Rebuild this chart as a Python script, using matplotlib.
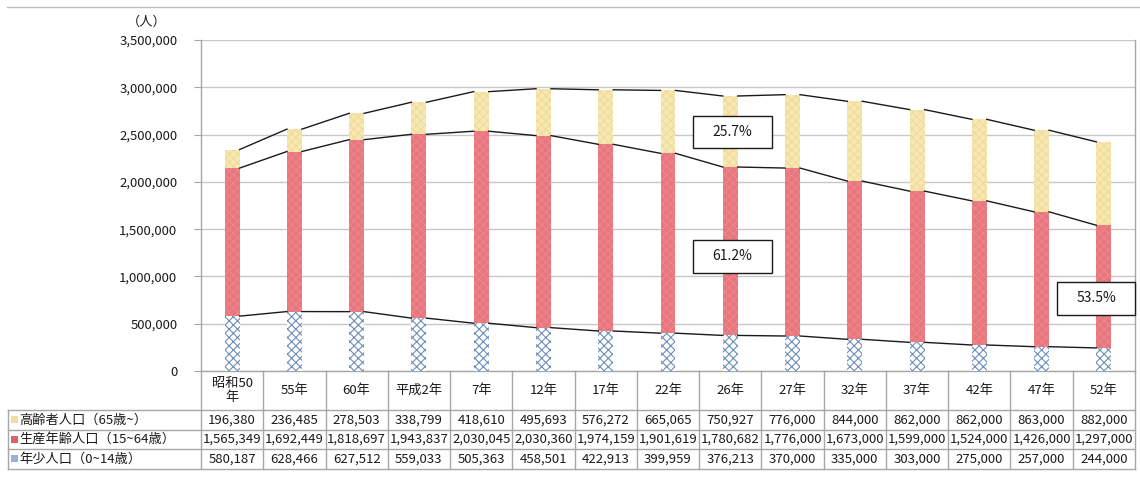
import matplotlib
matplotlib.use('Agg')
import matplotlib.pyplot as plt
from matplotlib.patches import Rectangle
from matplotlib.lines import Line2D
from matplotlib import transforms
from matplotlib.ticker import FuncFormatter
import numpy as np

plt.rcParams['font.family'] = ['Noto Sans CJK JP', 'DejaVu Sans']
plt.rcParams['hatch.linewidth'] = 0.8

categories = ['昭和50\n年', '55年', '60年', '平成2年', '7年', '12年', '17年', '22年',
              '26年', '27年', '32年', '37年', '42年', '47年', '52年']
elderly = [196380, 236485, 278503, 338799, 418610, 495693, 576272, 665065,
           750927, 776000, 844000, 862000, 862000, 863000, 882000]
working = [1565349, 1692449, 1818697, 1943837, 2030045, 2030360, 1974159, 1901619,
           1780682, 1776000, 1673000, 1599000, 1524000, 1426000, 1297000]
children = [580187, 628466, 627512, 559033, 505363, 458501, 422913, 399959,
            376213, 370000, 335000, 303000, 275000, 257000, 244000]
row_labels = ['高齢者人口（65歳~）', '生産年齢人口（15~64歳）', '年少人口（0~14歳）']
ratio_labels = ['25.7%', '61.2%', '53.5%']
y_unit = '（人）'

W, H = 1140, 488
fig = plt.figure(figsize=(W / 100, H / 100), dpi=100)


def fx(px):
    return px / W


def fy(py):
    return 1 - py / H


L, R, T, B = 201, 1135, 40, 371
ax = fig.add_axes([fx(L), fy(B), fx(R) - fx(L), fy(T) - fy(B)])

x = np.arange(len(categories))
ch = np.array(children)
wk = np.array(working)
el = np.array(elderly)
w = 0.24

ax.bar(x, ch, w, color='white', edgecolor='#6E8EBA', hatch='xxxx', lw=0, zorder=3)
ax.bar(x, wk, w, bottom=ch, color='#E8767D', edgecolor='#EC868C', hatch='xxxx', lw=0, zorder=3)
ax.bar(x, el, w, bottom=ch + wk, color='#F7E7B0', edgecolor='#EEDB9C', hatch='xxxx', lw=0, zorder=3)

levels = [ch, ch + wk, ch + wk + el]
for lv in levels:
    for i in range(len(x) - 1):
        ax.plot([x[i] + w / 2, x[i + 1] - w / 2], [lv[i], lv[i + 1]],
                color='#1a1a1a', lw=1.0, zorder=4)

ax.set_xlim(-0.5, len(categories) - 0.5)
ax.set_ylim(0, 3500000)
ax.set_yticks(np.arange(0, 3500001, 500000))
ax.yaxis.set_major_formatter(FuncFormatter(lambda v, p: f'{int(v):,}'))
ax.set_xticks([])
ax.tick_params(axis='y', length=5, color='#A6A6A6', labelsize=9.5, pad=12, labelcolor='#1a1a1a')
ax.grid(axis='y', color='#C8C8C8', lw=1, zorder=0)
ax.spines['top'].set_visible(False)
for s in ['left', 'bottom', 'right']:
    ax.spines[s].set_color('#A6A6A6')
    ax.spines[s].set_linewidth(1)

fig.text(fx(147), fy(22), y_unit, ha='center', va='center', fontsize=9.5, color='#1a1a1a')

# ratio boxes
boxes = [(693, 116, 772, 148), (693, 240, 772, 273), (1057, 282, 1135, 315)]
for (x0, y0, x1, y1), lab in zip(boxes, ratio_labels):
    fig.patches.append(Rectangle((fx(x0), fy(y1)), fx(x1) - fx(x0), fy(y0) - fy(y1),
                                 transform=fig.transFigure, facecolor='white',
                                 edgecolor='#1a1a1a', lw=1, zorder=5))
    fig.text(fx((x0 + x1) / 2), fy((y0 + y1) / 2), lab, ha='center', va='center',
             fontsize=10, color='#1a1a1a', zorder=6)

# data table
blend = transforms.blended_transform_factory(ax.transData, fig.transFigure)
gc = '#A6A6A6'
tbl_top = 410
row_h = 19.5
tbl_bot = tbl_top + row_h * 3
for i in range(len(categories) + 1):
    xb = i - 0.5
    fig.lines.append(Line2D([xb, xb], [fy(B), fy(tbl_bot)], transform=blend, color=gc, lw=1))
for k in range(4):
    yy = tbl_top + k * row_h
    fig.lines.append(Line2D([fx(8), fx(R)], [fy(yy), fy(yy)], transform=fig.transFigure, color=gc, lw=1))
fig.lines.append(Line2D([fx(8), fx(8)], [fy(tbl_top), fy(tbl_bot)], transform=fig.transFigure, color=gc, lw=1))

for i, c in enumerate(categories):
    fig.text(x[i], fy((B + tbl_top) / 2), c, transform=blend, ha='center', va='center',
             fontsize=9.5, color='#1a1a1a', linespacing=1.2)

legend_colors = ['#F2DE9C', '#E0606C', '#9DB0D2']
rows = [elderly, working, children]
for r, (lab, vals) in enumerate(zip(row_labels, rows)):
    yc = tbl_top + r * row_h + row_h / 2
    fig.patches.append(Rectangle((fx(11), fy(yc + 3.5)), fx(7), 7 / H,
                                 transform=fig.transFigure, facecolor=legend_colors[r],
                                 edgecolor='none'))
    fig.text(fx(19), fy(yc), lab, ha='left', va='center', fontsize=9.5, color='#1a1a1a')
    for i, v in enumerate(vals):
        fig.text(x[i], fy(yc), f'{v:,}', transform=blend, ha='center', va='center',
                 fontsize=9.5, color='#1a1a1a')

# chart frame top line
fig.lines.append(Line2D([fx(7), fx(1140)], [fy(7), fy(7)], transform=fig.transFigure, color='#BFBFBF', lw=1))

fig.savefig('out.png', dpi=100)
